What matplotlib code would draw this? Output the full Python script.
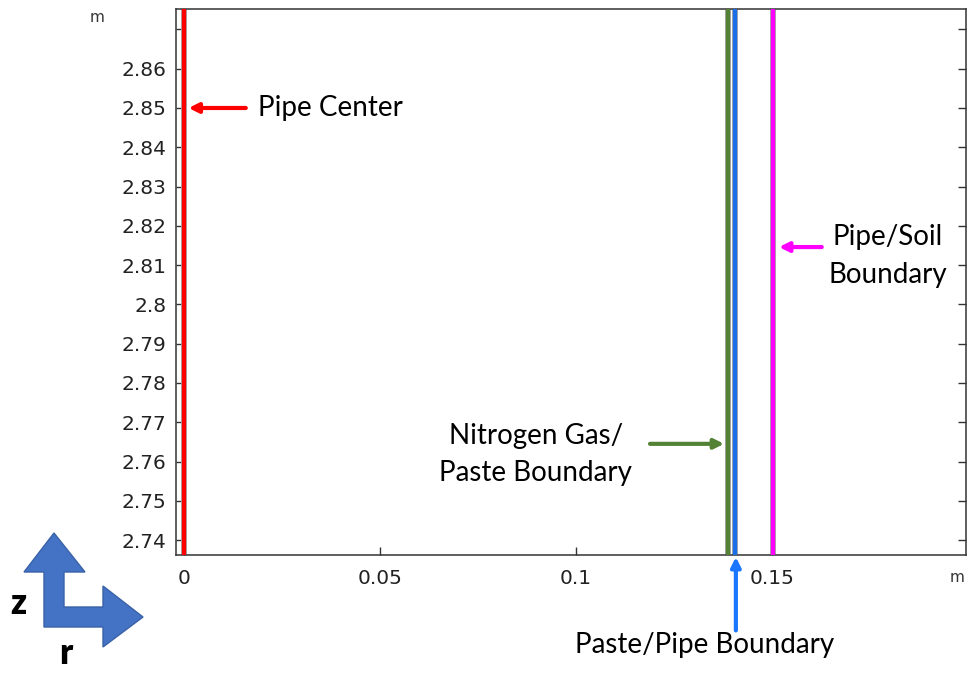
import matplotlib
matplotlib.use("Agg")
import matplotlib.pyplot as plt
from matplotlib.patches import Polygon
from matplotlib.ticker import FuncFormatter

# boundary positions (r, in m) and their colours
boundary_names = ["Pipe Center", "Nitrogen Gas/Paste", "Paste/Pipe", "Pipe/Soil"]
boundary_r = [0.0, 0.1388, 0.1406, 0.1503]
boundary_colors = ["#ff0000", "#548235", "#1a6fe8", "#ff00ff"]

xticks = [0, 0.05, 0.1, 0.15]
yticks = [2.74, 2.75, 2.76, 2.77, 2.78, 2.79, 2.80, 2.81, 2.82, 2.83, 2.84, 2.85, 2.86, 2.87]

W, H = 971, 673
fig = plt.figure(figsize=(W / 100, H / 100), dpi=100)
ax = fig.add_axes([176 / W, (H - 555) / H, 790 / W, 546 / H])

for r, c in zip(boundary_r, boundary_colors):
    ax.axvline(r, color="#a0a0a0", lw=4.2, zorder=2)
    ax.axvline(r, color=c, lw=3.0, zorder=3)

ax.set_xlim(-0.002, 0.1995)
ax.set_ylim(2.7362, 2.8752)
ax.set_xticks(xticks)
ax.set_yticks(yticks)
ax.xaxis.set_major_formatter(FuncFormatter(lambda v, p: "%g" % v))
ax.yaxis.set_major_formatter(FuncFormatter(lambda v, p: "" if v > 2.865 else "%g" % round(v, 2)))
ax.tick_params(direction="in", length=6, width=1, labelsize=14.5, colors="#333333",
               labelcolor="#222222", right=True, pad=7)
ax.tick_params(axis="x", pad=10)
for s in ax.spines.values():
    s.set_color("#333333")
    s.set_linewidth(1.1)

fig.text(97 / W, 1 - 17 / H, "m", fontsize=11, color="#333333", ha="center", va="center")
fig.text(957 / W, 1 - 578 / H, "m", fontsize=11, color="#333333", ha="center", va="center")

lab = dict(fontsize=20, family="Lato", color="black")
arr = dict(arrowstyle="-|>", lw=3, mutation_scale=14, shrinkA=0, shrinkB=0)

# Pipe Center
ax.annotate("", xy=(0.0012, 2.85), xytext=(0.0158, 2.85),
            arrowprops=dict(arr, color=boundary_colors[0]))
ax.text(0.019, 2.85, "Pipe Center", ha="left", va="center", **lab)

# Pipe/Soil
ax.annotate("", xy=(0.1518, 2.8146), xytext=(0.1627, 2.8146),
            arrowprops=dict(arr, color=boundary_colors[3]))
ax.text(0.1796, 2.8123, "Pipe/Soil\nBoundary", ha="center", va="center",
        linespacing=1.55, **lab)

# Nitrogen Gas / Paste
ax.annotate("", xy=(0.1378, 2.7645), xytext=(0.1189, 2.7645),
            arrowprops=dict(arr, color=boundary_colors[1]))
ax.text(0.0898, 2.7618, "Nitrogen Gas/\nPaste Boundary", ha="center", va="center",
        linespacing=1.5, **lab)

# Paste/Pipe
ax.annotate("", xy=(0.1408, 2.7357), xytext=(0.1408, 2.7170),
            arrowprops=dict(arr, color="#1a75ff"), annotation_clip=False)
ax.text(0.1329, 2.7134, "Paste/Pipe Boundary", ha="center", va="center",
        clip_on=False, **lab)

# z / r direction glyph
pts = [(54, 533), (85, 572), (64, 572), (64, 607), (103, 607), (103, 586),
       (143, 617), (103, 647), (103, 627), (44, 627), (44, 572), (24, 572)]
pts = [(x / W, 1 - y / H) for x, y in pts]
fig.patches.append(Polygon(pts, closed=True, transform=fig.transFigure,
                           facecolor="#4472c4", edgecolor="#3a62a8", lw=1))
fig.text(18 / W, 1 - 604 / H, "z", fontsize=25, fontweight="heavy", family="Lato",
         ha="center", va="center")
fig.text(66 / W, 1 - 653 / H, "r", fontsize=25, fontweight="heavy", family="Lato",
         ha="center", va="center")

fig.savefig("out.png", dpi=100)
